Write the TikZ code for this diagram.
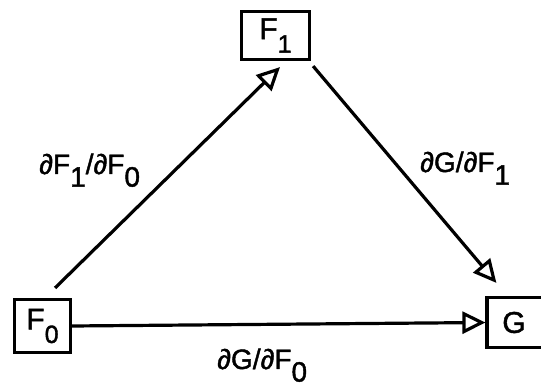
\documentclass[tikz,border=0pt]{standalone}
\usepackage{fontspec}
\setmainfont[FakeBold=1.5,AutoFakeBold=1.5]{Liberation Sans}
\usetikzlibrary{arrows.meta,positioning}
\newcommand{\lowidx}[1]{\raisebox{-0.45em}{#1}}
\newcommand{\boxidx}[1]{\raisebox{-0.45em}{\fontsize{25}{27}\selectfont #1}}

\begin{document}
\begin{tikzpicture}[x=1pt,y=-1pt,
  font=\fontsize{30}{32}\selectfont\bfseries, >={Triangle[open,length=23pt,width=22pt]},
  var/.style={draw,line width=3.2pt,inner sep=0pt},
  lbl/.style={font=\fontsize{28}{30}\selectfont\bfseries,anchor=base west,inner sep=0pt}]
\useasboundingbox (0,0) rectangle (541,387);
% the three quantities
\node[var,minimum width=56pt,minimum height=53pt] (F0) at (42.5,326) {F\boxidx{0}};
\node[var,minimum width=68pt,minimum height=48pt] (F1) at (275.5,35.5) {F\boxidx{1}};
\node[var,minimum width=58pt,minimum height=50pt] (G) at (516,322.5) {G\hspace*{4pt}};
% derivatives
\draw[line width=3.2pt,->] ([xshift=-17pt,yshift=10pt]F0.north east) -- ([xshift=4.5pt,yshift=-6pt]F1.south);
\draw[line width=3.2pt,->] ([xshift=2pt,yshift=-5pt]F1.south east) -- ([xshift=11pt,yshift=13pt]G.north west);
\draw[line width=3.2pt,->] (F0.east) -- (G.west);
\node[lbl] (dF1dF0) at (39,174) {∂F\lowidx{1}/∂F\lowidx{0}};
\node[lbl] (dGdF1) at (420,172) {∂G/∂F\lowidx{1}};
\node[lbl] (dGdF0) at (217,369) {∂G/∂F\lowidx{0}};
\end{tikzpicture}
\end{document}
